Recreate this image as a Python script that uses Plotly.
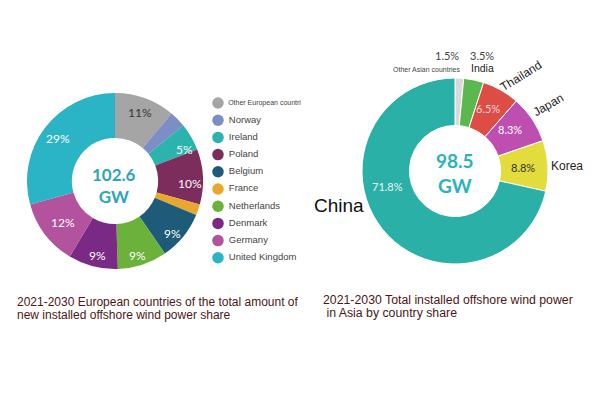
import plotly.graph_objects as go

# ---------------- data ----------------
eu_labels = ["Other European countries", "Norway", "Ireland", "Poland", "France",
             "Belgium", "Netherlands", "Denmark", "Germany", "United Kingdom"]
eu_values = [11, 3, 5, 10, 2, 9, 9, 9, 12, 29]
eu_colors = ["#a5a5a5", "#7b8fc6", "#2db3ad", "#7d2d5c", "#e8a82e",
             "#1d5b79", "#6bb13a", "#7a2a84", "#b3529d", "#2bb4c6"]
eu_legend_order = ["Other European countri", "Norway", "Ireland", "Poland", "Belgium",
                   "France", "Netherlands", "Denmark", "Germany", "United Kingdom"]
eu_legend_colors = ["#a5a5a5", "#7b8fc6", "#2db3ad", "#7d2d5c", "#1d5b79",
                    "#e8a82e", "#6bb13a", "#7a2a84", "#b3529d", "#2bb4c6"]
eu_total = "102.6<br>GW"

asia_labels = ["Other Asian countries", "India", "Thailand", "Japan", "Korea", "China"]
asia_values = [1.5, 3.5, 6.5, 8.3, 8.8, 71.8]
asia_colors = ["#d9d9d9", "#5bb84e", "#de4c46", "#be4fb0", "#e2dc3c", "#2bb0a7"]
asia_total = "98.5<br>GW"

cap_left = ["2021-2030 European countries of the total amount of",
            "new installed offshore wind power share"]
cap_right = ["2021-2030 Total installed offshore wind power",
             " in Asia by country share"]

W, H = 600, 400

def px(x):
    return x / W

def py(y):
    return 1 - y / H

fig = go.Figure()

fig.add_trace(go.Pie(
    labels=eu_labels, values=eu_values, sort=False, direction="clockwise",
    hole=0.49, marker=dict(colors=eu_colors, line=dict(width=0)),
    textinfo="none", showlegend=False, hoverinfo="label+percent",
    domain=dict(x=[px(27), px(203)], y=[py(269), py(93)]),
))

fig.add_trace(go.Pie(
    labels=asia_labels, values=asia_values, sort=False, direction="clockwise",
    hole=0.49, marker=dict(colors=asia_colors, line=dict(width=1, color="white")),
    textinfo="none", showlegend=False, hoverinfo="label+percent",
    domain=dict(x=[px(362), px(548)], y=[py(264), py(78)]),
))

# legend drawn as a scatter on a hidden pixel-space axis
leg_y = [103 + 17.2 * i for i in range(len(eu_legend_order))]
fig.add_trace(go.Scatter(
    x=[218] * len(eu_legend_order), y=leg_y, mode="markers+text",
    marker=dict(size=11.5, color=eu_legend_colors),
    text=[" " + t for t in eu_legend_order], textposition="middle right",
    textfont=dict(family="Liberation Sans, Arial", size=[7] + [9.5] * 9, color="#444444"),
    hoverinfo="skip", showlegend=False, cliponaxis=False,
))

fig.update_layout(
    width=W, height=H, margin=dict(l=0, r=0, t=0, b=0),
    paper_bgcolor="white", plot_bgcolor="rgba(0,0,0,0)",
    xaxis=dict(range=[0, W], visible=False, fixedrange=True),
    yaxis=dict(range=[H, 0], visible=False, fixedrange=True),
)

def A(x, y, text, size, color, family="Lato", **kw):
    d = dict(x=x, y=y, xref="x", yref="y", text=text, showarrow=False,
             font=dict(family=family, size=size, color=color))
    d.update(kw)
    return d

SANS = "Liberation Sans, Arial"
ann = []
# left donut percentage labels
eu_pos = [(140, 112), None, (184, 149), (190, 183), None, (172, 233), (137, 255), (97, 255), (63, 222), (58, 138)]
for i, (v, p) in enumerate(zip(eu_values, eu_pos)):
    if p is None:
        continue
    ann.append(A(p[0], p[1], f"{v}%", 12, "#333333" if i == 0 else "white"))
ann.append(A(114, 185, f"<b>{eu_total}</b>", 17, "#2aa6b6"))

# right donut labels
ann.append(A(455, 173, f"<b>{asia_total}</b>", 19, "#2cb3b9"))
inside = {2: ((488, 108), "#f6d6d6"), 3: ((510, 129), "white"), 4: ((523, 167), "#333333"), 5: ((387, 186), "#e8f5f4")}
for i, (p, c) in inside.items():
    ann.append(A(p[0], p[1], f"{asia_values[i]}%", 11, c))
ann.append(A(447, 55, f"{asia_values[0]}%", 11, "#444444"))
ann.append(A(482, 55, f"{asia_values[1]}%", 11, "#444444"))
ann.append(A(426, 69, asia_labels[0], 7, "#444444", SANS))
ann.append(A(482, 68, asia_labels[1], 10.5, "#222222", SANS))
ann.append(A(521, 76, asia_labels[2], 12, "#222222", SANS, textangle=-32))
ann.append(A(548, 105, asia_labels[3], 12, "#222222", SANS, textangle=-30))
ann.append(A(567, 166, asia_labels[4], 12, "#222222", SANS))
ann.append(A(339, 205, asia_labels[5], 19, "#111111", SANS))

# captions (one annotation per line for tight spacing)
for j, line in enumerate(cap_left):
    ann.append(A(15, 302 + 12.5 * j, line, 12, "#4e1616", SANS, xanchor="left", yanchor="middle"))
for j, line in enumerate(cap_right):
    ann.append(A(321, 300 + 13 * j, line, 12.3, "#4e1616", SANS, xanchor="left", yanchor="middle"))

fig.update_layout(annotations=ann)
fig.write_html("out.html")
